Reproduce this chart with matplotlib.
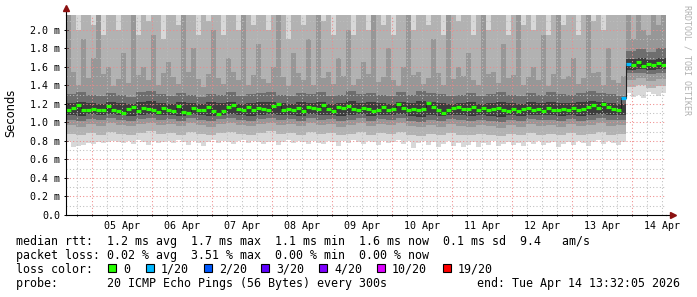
import numpy as np
import pandas as pd
import matplotlib
matplotlib.use('Agg')
import matplotlib.pyplot as plt
import matplotlib.dates as mdates
from matplotlib.patches import Rectangle
from matplotlib.ticker import FuncFormatter, MultipleLocator

plt.rcParams['font.family'] = ['DejaVu Sans Mono']

# 2 hour bins, Apr 4 13:32 -> Apr 14 13:32
start = '2026-04-04 13:32:05'
nbins = 120

median = [1.13, 1.16, 1.19, 1.14, 1.13, 1.15, 1.13, 1.14, 1.18, 1.13,
          1.12, 1.10, 1.15, 1.17, 1.12, 1.16, 1.15, 1.13, 1.11, 1.16,
          1.14, 1.12, 1.18, 1.11, 1.10, 1.16, 1.14, 1.14, 1.17, 1.12,
          1.09, 1.12, 1.17, 1.19, 1.15, 1.14, 1.17, 1.13, 1.16, 1.15,
          1.14, 1.18, 1.20, 1.13, 1.15, 1.14, 1.16, 1.12, 1.17, 1.16,
          1.15, 1.19, 1.15, 1.12, 1.17, 1.16, 1.18, 1.15, 1.13, 1.16,
          1.15, 1.12, 1.14, 1.17, 1.13, 1.15, 1.20, 1.16, 1.14, 1.15,
          1.13, 1.15, 1.21, 1.17, 1.14, 1.10, 1.14, 1.16, 1.17, 1.15,
          1.15, 1.17, 1.14, 1.16, 1.13, 1.15, 1.16, 1.14, 1.12, 1.15,
          1.12, 1.15, 1.16, 1.13, 1.15, 1.12, 1.16, 1.14, 1.13, 1.15,
          1.14, 1.16, 1.13, 1.15, 1.17, 1.19, 1.16, 1.20, 1.17, 1.15,
          1.13, 1.27, 1.63, 1.62, 1.65, 1.61, 1.63, 1.62, 1.64, 1.62]

# lowest ping (bottom of the smoke)
ping_lo = [0.80, 0.73, 0.75, 0.76, 0.78, 0.77, 0.79, 0.78, 0.79, 0.80,
           0.79, 0.78, 0.80, 0.77, 0.81, 0.79, 0.76, 0.80, 0.78, 0.79,
           0.80, 0.78, 0.81, 0.79, 0.76, 0.80, 0.78, 0.75, 0.79, 0.81,
           0.78, 0.80, 0.79, 0.77, 0.80, 0.81, 0.78, 0.80, 0.79, 0.77,
           0.79, 0.80, 0.76, 0.79, 0.81, 0.78, 0.80, 0.79, 0.77, 0.80,
           0.78, 0.77, 0.80, 0.79, 0.75, 0.80, 0.78, 0.81, 0.79, 0.77,
           0.80, 0.79, 0.76, 0.80, 0.78, 0.79, 0.81, 0.77, 0.80, 0.72,
           0.78, 0.80, 0.76, 0.79, 0.74, 0.77, 0.80, 0.75, 0.78, 0.73,
           0.76, 0.79, 0.74, 0.78, 0.76, 0.80, 0.75, 0.77, 0.79, 0.76,
           0.78, 0.75, 0.79, 0.77, 0.80, 0.76, 0.78, 0.79, 0.74, 0.77,
           0.79, 0.76, 0.80, 0.78, 0.75, 0.79, 0.81, 0.77, 0.80, 0.78,
           0.76, 0.79, 1.32, 1.28, 1.30, 1.27, 1.33, 1.31, 1.29, 1.32]

ping_top = [2.6] * nbins

hi2 = [2.5, 2.5, 2.0, 2.5, 2.5, 2.05, 2.5, 1.95, 2.5, 2.5,
       2.0, 2.5, 2.5, 2.5, 1.95, 2.5, 2.1, 2.5, 2.5, 1.9,
       2.5, 2.5, 2.05, 2.5, 2.5, 2.5, 1.95, 2.5, 2.1, 2.5,
       2.5, 1.95, 2.5, 2.5, 2.0, 2.5, 2.5, 2.05, 2.5, 2.5,
       2.0, 2.5, 2.5, 2.5, 1.9, 2.5, 2.5, 2.05, 2.5, 2.5,
       2.5, 2.1, 2.5, 1.95, 2.5, 2.5, 2.5, 1.95, 2.5, 2.5,
       2.0, 2.5, 2.5, 2.05, 2.5, 1.95, 2.5, 2.5, 2.5, 2.0,
       2.5, 2.5, 2.05, 2.5, 2.5, 1.95, 2.5, 2.5, 2.1, 2.5,
       2.5, 1.95, 2.5, 2.5, 2.0, 2.5, 2.5, 2.5, 1.95, 2.5,
       2.5, 2.05, 2.5, 2.0, 2.5, 2.5, 1.95, 2.5, 2.5, 2.05,
       2.5, 2.5, 1.95, 2.5, 2.5, 2.1, 2.5, 2.0, 2.5, 2.5,
       2.5, 2.5, 2.5, 2.5, 2.05, 2.5, 2.5, 2.0, 2.5, 2.5]

hi3 = [2.3, 1.55, 1.41, 1.9, 1.48, 1.7, 2.3, 1.52, 1.6, 1.39,
       1.47, 1.75, 1.43, 2.3, 1.51, 1.6, 1.46, 1.95, 1.40, 1.53,
       1.65, 1.49, 1.42, 2.3, 1.55, 1.8, 1.47, 1.38, 1.52, 2.0,
       1.48, 1.42, 1.7, 1.55, 1.46, 2.3, 1.40, 1.51, 1.85, 1.47,
       1.43, 1.6, 2.3, 1.49, 1.39, 1.75, 1.53, 1.46, 1.9, 1.41,
       2.3, 1.48, 1.55, 1.42, 1.7, 1.50, 2.0, 1.40, 1.47, 1.65,
       1.52, 2.3, 1.44, 1.49, 1.8, 1.46, 1.39, 1.6, 2.3, 1.51,
       1.55, 1.42, 1.48, 1.9, 1.53, 1.41, 2.3, 1.47, 1.6, 1.50,
       1.75, 1.46, 1.40, 2.3, 1.52, 1.55, 1.43, 1.85, 1.48, 1.51,
       2.3, 1.41, 1.49, 1.6, 1.46, 1.95, 1.39, 1.52, 2.3, 1.47,
       1.50, 1.7, 1.42, 1.48, 2.3, 1.53, 1.55, 1.40, 1.8, 1.46,
       1.43, 1.5, 2.3, 1.9, 2.3, 2.0, 1.95, 2.3, 2.05, 2.3]

# inner smoke bands, 4 hour bins
lo2 = [0.88, 0.86, 0.89, 0.87, 0.90, 0.88, 0.87, 0.89, 0.91, 0.88,
       0.89, 0.87, 0.90, 0.88, 0.86, 0.89, 0.90, 0.88, 0.87, 0.89,
       0.91, 0.88, 0.89, 0.87, 0.90, 0.88, 0.89, 0.86, 0.88, 0.90,
       0.87, 0.89, 0.88, 0.90, 0.87, 0.85, 0.88, 0.86, 0.89, 0.87,
       0.86, 0.88, 0.87, 0.85, 0.88, 0.86, 0.89, 0.87, 0.88, 0.86,
       0.89, 0.87, 0.88, 0.90, 0.87, 0.88, 1.38, 1.40, 1.37, 1.39]
lo3 = [0.97, 0.95, 0.98, 0.96, 0.99, 0.97, 0.96, 0.98, 0.99, 0.97,
       0.98, 0.96, 0.99, 0.97, 0.95, 0.98, 0.99, 0.97, 0.96, 0.98,
       0.99, 0.97, 0.98, 0.96, 0.99, 0.97, 0.98, 0.95, 0.97, 0.99,
       0.96, 0.98, 0.97, 0.99, 0.96, 0.95, 0.97, 0.95, 0.98, 0.96,
       0.95, 0.97, 0.96, 0.94, 0.97, 0.95, 0.98, 0.96, 0.97, 0.95,
       0.98, 0.96, 0.97, 0.99, 0.96, 0.97, 1.46, 1.48, 1.45, 1.47]
lo4 = [1.03, 1.02, 1.04, 1.03, 1.05, 1.03, 1.02, 1.04, 1.05, 1.03,
       1.04, 1.02, 1.05, 1.03, 1.02, 1.04, 1.05, 1.03, 1.02, 1.04,
       1.05, 1.03, 1.04, 1.02, 1.05, 1.03, 1.04, 1.02, 1.03, 1.05,
       1.02, 1.04, 1.03, 1.05, 1.02, 1.01, 1.03, 1.02, 1.04, 1.03,
       1.02, 1.03, 1.02, 1.01, 1.03, 1.02, 1.04, 1.03, 1.03, 1.02,
       1.04, 1.02, 1.03, 1.05, 1.03, 1.03, 1.53, 1.54, 1.52, 1.54]
lo5 = [1.08, 1.07, 1.09, 1.08, 1.09, 1.08, 1.07, 1.08, 1.09, 1.08,
       1.08, 1.07, 1.09, 1.08, 1.07, 1.08, 1.09, 1.08, 1.07, 1.08,
       1.09, 1.08, 1.08, 1.07, 1.09, 1.08, 1.08, 1.07, 1.08, 1.09,
       1.07, 1.08, 1.08, 1.09, 1.07, 1.06, 1.08, 1.07, 1.08, 1.08,
       1.07, 1.08, 1.07, 1.06, 1.08, 1.07, 1.08, 1.08, 1.08, 1.07,
       1.08, 1.07, 1.08, 1.09, 1.08, 1.08, 1.57, 1.58, 1.57, 1.58]
hi5 = [1.21, 1.22, 1.21, 1.20, 1.22, 1.21, 1.20, 1.22, 1.23, 1.21,
       1.20, 1.22, 1.21, 1.20, 1.22, 1.21, 1.22, 1.20, 1.21, 1.22,
       1.22, 1.21, 1.20, 1.22, 1.21, 1.22, 1.20, 1.21, 1.23, 1.21,
       1.22, 1.21, 1.20, 1.22, 1.21, 1.23, 1.22, 1.21, 1.20, 1.21,
       1.22, 1.20, 1.21, 1.22, 1.21, 1.20, 1.22, 1.21, 1.22, 1.21,
       1.21, 1.22, 1.23, 1.22, 1.21, 1.20, 1.69, 1.70, 1.68, 1.70]
hi4 = [1.31, 1.33, 1.30, 1.29, 1.32, 1.30, 1.28, 1.33, 1.34, 1.31,
       1.29, 1.32, 1.30, 1.28, 1.31, 1.30, 1.33, 1.29, 1.31, 1.32,
       1.33, 1.30, 1.29, 1.32, 1.31, 1.33, 1.29, 1.30, 1.34, 1.31,
       1.32, 1.30, 1.29, 1.33, 1.30, 1.34, 1.32, 1.31, 1.29, 1.30,
       1.32, 1.29, 1.31, 1.33, 1.30, 1.29, 1.32, 1.30, 1.33, 1.31,
       1.30, 1.32, 1.34, 1.32, 1.31, 1.29, 1.77, 1.79, 1.76, 1.80]

loss_bins = [111, 112]
loss_counts = [1, 1]

loss_levels = [0, 1, 2, 3, 4, 10, 19]
loss_labels = ['0', '1/20', '2/20', '3/20', '4/20', '10/20', '19/20']
loss_colors = ['#26ff00', '#00b8ff', '#0059ff', '#5e00ff', '#7e00ff', '#dd00ff', '#ff0000']

line_rtt = 'median rtt:  1.2 ms avg  1.7 ms max  1.1 ms min  1.6 ms now  0.1 ms sd  9.4   am/s'
line_loss = 'packet loss: 0.02 % avg  3.51 % max  0.00 % min  0.00 % now'
line_probe = 'probe:       20 ICMP Echo Pings (56 Bytes) every 300s'
line_end = 'end: Tue Apr 14 13:32:05 2026'

W, H = 697, 297
fig = plt.figure(figsize=(W / 100, H / 100), dpi=100)
ax = fig.add_axes([66 / W, 82 / H, 600 / W, 200 / H])

edges = pd.date_range(start, periods=nbins + 1, freq='2h')
xe = mdates.date2num(edges.to_pydatetime())

def r2(a):
    return np.repeat(np.array(a), 2)

layers = [
    (ping_lo, ping_top, '#d8d8d8'),
    (r2(lo2), hi2, '#b2b2b2'),
    (r2(lo3), hi3, '#979797'),
    (r2(lo4), r2(hi4), '#6e6e6e'),
    (r2(lo5), r2(hi5), '#3c3c3c'),
]
for lo, hi, col in layers:
    ax.stairs(np.array(hi), xe, baseline=np.array(lo), fill=True,
              color=col, lw=0, zorder=1)

# grid
ymax = 2.162
for v in np.arange(0.1, 2.15, 0.1):
    major = int(round(v * 10)) % 2 == 0
    ax.axhline(v, color='#f08a8a' if major else '#bdbdbd', lw=0.75,
               dashes=(1, 2.2), zorder=2)
hours = pd.date_range('2026-04-04 18:00', '2026-04-14 12:00', freq='6h')
for t in hours:
    major = t.hour == 0
    ax.axvline(mdates.date2num(t.to_pydatetime()),
               color='#f08a8a' if major else '#bdbdbd', lw=0.75,
               dashes=(1, 2.2), zorder=2)

# median, coloured by loss
med = np.array(median)
ax.stairs(med, xe, baseline=None, color='#202020', lw=0.8, zorder=3)
seg_colors = [loss_colors[0]] * nbins
for b, c in zip(loss_bins, loss_counts):
    k = max(i for i, lv in enumerate(loss_levels) if lv <= c)
    seg_colors[b] = loss_colors[k]
ax.hlines(med, xe[:-1], xe[1:], colors=seg_colors, lw=2.3, zorder=4)

ax.set_xlim(xe[0], xe[-1])
ax.set_ylim(0, ymax)

ax.yaxis.set_major_locator(MultipleLocator(0.2))
ax.yaxis.set_major_formatter(FuncFormatter(
    lambda v, p: '0.0' if abs(v) < 1e-9 else '%.1f m' % v))
ax.xaxis.set_major_locator(mdates.HourLocator(byhour=12))
ax.xaxis.set_major_formatter(mdates.DateFormatter('%d %b'))
ax.xaxis.set_minor_locator(mdates.HourLocator(byhour=[0, 6, 12, 18]))
ax.tick_params(axis='x', which='major', length=0, pad=4, labelsize=7.2)
ax.tick_params(axis='x', which='minor', length=2, width=0.7, direction='inout')
ax.tick_params(axis='y', which='major', length=2.5, width=0.7, direction='inout',
               pad=3, labelsize=7.2)

for s in ['top', 'right']:
    ax.spines[s].set_visible(False)
for s in ['left', 'bottom']:
    ax.spines[s].set_linewidth(0.8)
    ax.spines[s].set_zorder(5)

# axis arrows
ax.plot([0, 0], [1, 1 + 5 / 200], transform=ax.transAxes, color='black',
        lw=0.8, clip_on=False)
ax.plot([1, 1 + 4 / 600], [0, 0], transform=ax.transAxes, color='black',
        lw=0.8, clip_on=False)
ax.plot(0, 1 + 7 / 200, marker='^', ms=4, color='#8b1010',
        transform=ax.transAxes, clip_on=False)
ax.plot(1 + 7 / 600, 0, marker='>', ms=4, color='#8b1010',
        transform=ax.transAxes, clip_on=False)

fig.text(11 / W, 1 - 113 / H, 'Seconds', rotation=90, ha='center',
         va='center', fontsize=8.3, family='DejaVu Sans')
fig.text(687 / W, 1 - 60 / H, 'RRDTOOL / TOBI OETIKER', rotation=270,
         ha='center', va='center', fontsize=6, color='#b0b0b0')

fs = 8.4
fig.text(16 / W, 1 - 245 / H, line_rtt, fontsize=fs, va='baseline')
fig.text(16 / W, 1 - 259 / H, line_loss, fontsize=fs, va='baseline')
fig.text(16 / W, 1 - 273 / H, 'loss color:', fontsize=fs, va='baseline')
fig.text(16 / W, 1 - 287 / H, line_probe, fontsize=fs, va='baseline')
fig.text(680 / W, 1 - 287 / H, line_end, fontsize=fs, va='baseline', ha='right')

sq_x = [108, 146, 204, 261, 319, 377, 443]
for x, col, lab in zip(sq_x, loss_colors, loss_labels):
    fig.add_artist(Rectangle((x / W, 1 - 272 / H), 8 / W, 8 / H,
                             transform=fig.transFigure, facecolor=col,
                             edgecolor='black', lw=0.8))
    fig.text((x + 15) / W, 1 - 273 / H, lab, fontsize=fs, va='baseline')

fig.savefig('out.png', dpi=100)
